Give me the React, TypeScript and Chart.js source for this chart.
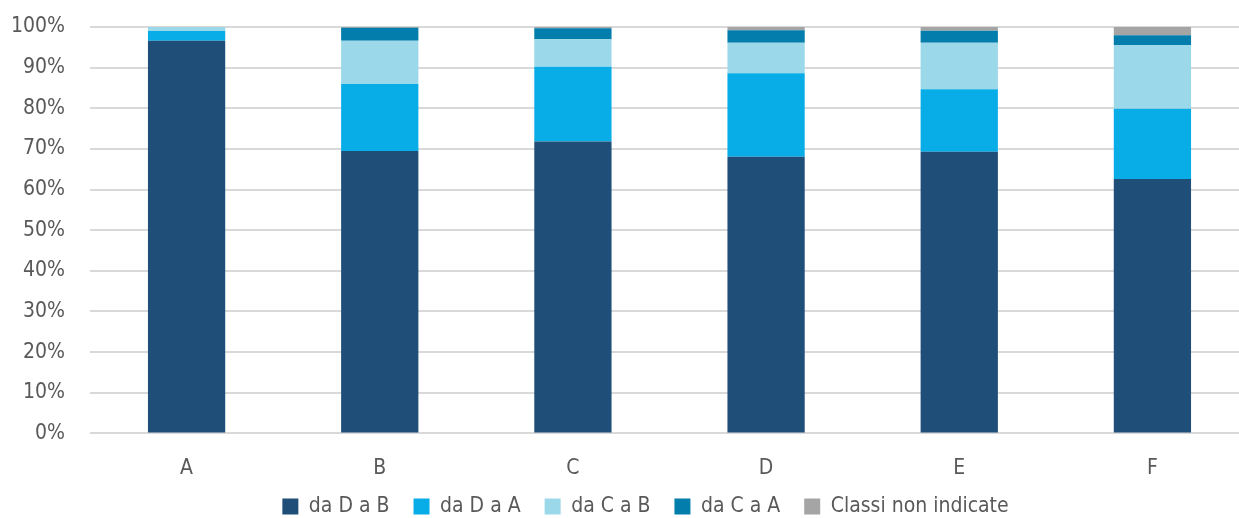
import React, { useEffect, useRef } from "react";
import { Chart, registerables } from "chart.js";

Chart.register(...registerables);

const categories = ["A", "B", "C", "D", "E", "F"];
const seriesNames = ["da D a B", "da D a A", "da C a B", "da C a A", "Classi non indicate"];
const daDaB = [96.6, 69.5, 71.8, 68.1, 69.3, 62.6];
const daDaA = [2.4, 16.5, 18.4, 20.5, 15.4, 17.3];
const daCaB = [1.0, 10.6, 6.8, 7.5, 11.4, 15.7];
const daCaA = [0.0, 3.2, 2.7, 3.1, 3.0, 2.4];
const nonIndicate = [0.0, 0.2, 0.3, 0.8, 0.9, 2.0];
const colors = ["#1F4E79", "#08ADE8", "#9AD8EA", "#027DAC", "#A5A5A5"];

const FONT = "'DejaVu Sans Condensed', 'DejaVu Sans', sans-serif";

const legendShift = {
  id: "legendShift",
  afterLayout(chart: any) {
    const l = chart.legend;
    if (l) {
      l.top -= 5;
      l.bottom -= 5;
    }
  },
};

export default function App() {
  const ref = useRef<HTMLCanvasElement | null>(null);
  useEffect(() => {
    if (!ref.current) return;
    const series = [daDaB, daDaA, daCaB, daCaA, nonIndicate];
    const chart = new Chart(ref.current, {
      type: "bar",
      data: {
        labels: categories,
        datasets: series.map((d, i) => ({
          label: seriesNames[i],
          data: d,
          backgroundColor: colors[i],
          borderWidth: 0,
          categoryPercentage: 0.8,
          barPercentage: 0.5,
          yAxisID: "y",
        })),
      },
      plugins: [legendShift],
      options: {
        responsive: false,
        animation: false,
        devicePixelRatio: 1,
        layout: { padding: { left: 0, right: 0, top: 27, bottom: 0 } },
        plugins: {
          tooltip: { enabled: false },
          legend: {
            position: "bottom",
            labels: {
              boxWidth: 16,
              boxHeight: 16,
              padding: 24,
              color: "#595959",
              font: { family: FONT, size: 21 },
            },
          },
        },
        scales: {
          x: {
            stacked: true,
            grid: { display: false },
            border: { display: false },
            ticks: { color: "#595959", font: { family: FONT, size: 21 }, padding: 15 },
            afterFit: (s: any) => {
              s.height = 43.6;
            },
          },
          y: {
            stacked: true,
            min: 0,
            max: 100,
            ticks: {
              stepSize: 10,
              color: "#595959",
              padding: 0,
              font: { family: FONT, size: 21 },
              callback: (v: any) => v + "%",
            },
            grid: {
              color: "#D9D9D9",
              lineWidth: 2,
              drawTicks: true,
              tickLength: 25,
              tickColor: "rgba(0,0,0,0)",
            },
            border: { display: false },
            afterFit: (s: any) => {
              s.width = 90;
            },
          },
          y2: {
            type: "linear",
            position: "right",
            display: true,
            grid: { display: false },
            border: { display: false },
            ticks: { display: false },
            afterFit: (s: any) => {
              s.width = 42;
            },
          },
        },
      },
    });
    return () => chart.destroy();
  }, []);
  return (
    <div style={{ position: "absolute", left: 0, top: 0, width: 1239, height: 518, overflow: "hidden", background: "#fff" }}>
      <canvas ref={ref} width={1291} height={532} style={{ width: 1291, height: 532, display: "block" }} />
    </div>
  );
}
